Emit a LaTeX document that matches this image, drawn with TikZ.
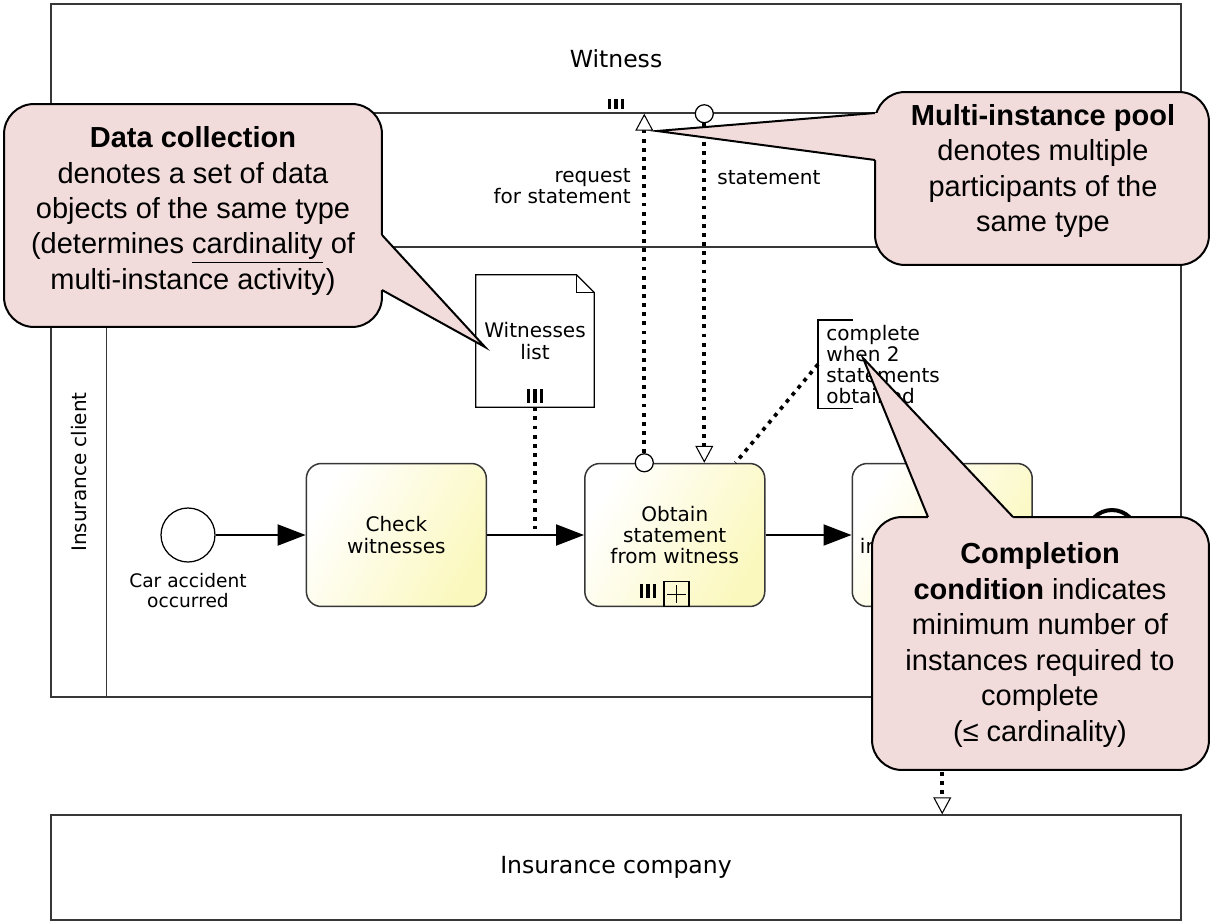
\documentclass[tikz,border=0pt]{standalone}
\usepackage{fontspec}
\setmainfont{Liberation Sans}
\newfontfamily\bpmnfont{DejaVu Sans}
\usetikzlibrary{
  arrows.meta,
  positioning,  % right=of ...
  calc,         % $...$
}
\definecolor{taskfill}{RGB}{251,248,190}
\definecolor{calloutfill}{RGB}{242,220,219}
\definecolor{poolline}{RGB}{55,55,55}
\def\mytaskw{3.6cm}
\def\mytaskh{2.86cm}
\def\mypoolw{22.6cm}
\newcommand{\bpmnsize}{\fontsize{11.4pt}{12pt}\selectfont}
\newcommand{\evsize}{\fontsize{10.6pt}{11.4pt}\selectfont}
\newcommand{\poolsize}{\fontsize{13.4pt}{16pt}\selectfont}
\newcommand{\notesize}{\fontsize{16.5pt}{20.2pt}\selectfont}
% multi-instance marker: three bars (centre, bar height)
\newcommand{\mibars}[2]{
  \foreach \bx in {-6.5,0,6.5}
    \draw[line width=0.075cm] ($(#1)+(\bx,-#2/2)$) -- ($(#1)+(\bx,#2/2)$);
}
\tikzset{
  line cap=butt,
  thin line/.style={
    draw=black,
    line width=0.025cm
  },
  pool/.style={
    draw=poolline,
    line width=0.03cm,
    minimum width=\mypoolw,
    inner sep=0pt,
    font=\bpmnfont\poolsize
  },
  pool label/.style={
    inner sep=0pt,
    font=\bpmnfont\bpmnsize
  },
  task/.style={
    draw=poolline,
    line width=0.03cm,
    rounded corners=0.3cm,
    minimum width=\mytaskw,
    minimum height=\mytaskh,
    left color=white,
    right color=taskfill,
    shading angle=60,
    align=center,
    font=\bpmnfont\bpmnsize
  },
  start event/.style={
    circle,
    thin line,
    fill=white,
    minimum size=1.08cm,
    inner sep=0pt
  },
  end event/.style={
    circle,
    draw=black,
    line width=0.08cm,
    fill=white,
    minimum size=1.0cm,
    inner sep=0pt
  },
  event label/.style={
    align=center,
    inner sep=0pt,
    font=\bpmnfont\evsize
  },
  flow label/.style={
    inner sep=0pt,
    font=\bpmnfont\bpmnsize
  },
  data object/.style={
    minimum width=2.36cm,
    minimum height=2.64cm,
    align=center,
    font=\bpmnfont\bpmnsize
  },
  plus box/.style={
    thin line,
    minimum size=0.5cm,
    inner sep=0pt
  },
  msg dot/.style={
    circle,
    thin line,
    fill=white,
    minimum size=0.36cm,
    inner sep=0pt
  },
  seq/.style={
    -{Triangle[length=0.56cm,width=0.42cm]},
    line width=0.04cm
  },
  msg/.style={
    -{Triangle[length=0.34cm,width=0.36cm,line width=0.6pt,fill=white]},
    line width=2.1pt,
    dash pattern=on 2.2pt off 3pt
  },
  assoc/.style={
    line width=2.1pt,
    dash pattern=on 2.2pt off 3pt
  },
  callout/.style={
    draw=black,
    line width=0.04cm,
    fill=calloutfill,
    rounded corners=0.6cm
  },
  callout edge/.style={
    draw=black,
    line width=0.04cm
  },
  callout text/.style={
    align=center,
    inner sep=0pt,
    font=\notesize
  }
}

\begin{document}
\begin{tikzpicture}[x=0.02cm,y=-0.02cm]
\useasboundingbox (0,0) rectangle (1212,923);
% Pools
\node[pool, minimum height=2.18cm] (witness) at (616,58.5) {Witness};
\node[pool, minimum height=9cm]    (client)  at (616,472)  {};
\node[pool, minimum height=2.1cm]  (company) at (616,867.5) {Insurance company};
\draw[draw=poolline, line width=0.03cm] ([xshift=1.12cm]client.north west) -- ([xshift=1.12cm]client.south west);
\node[pool label, rotate=90] (clientlbl) at (79,472) {Insurance client};
\mibars{616,104}{10}
% Process of the insurance client
\node[start event]                   (start)    at (188,535) {};
\node[event label, below=0.2cm of start] (startlbl) {Car accident\\occurred};
\node[task, right=1.8cm of start]    (check)  {Check\\witnesses};
\node[task, right=1.94cm of check]   (obtain) {Obtain\\statement\\from witness};
\node[task, right=1.72cm of obtain]  (claim)  {\phantom{Submit}\\in\phantom{surance claim.}};
\node[end event, right=1.04cm of claim] (end) {};
\draw[seq] (start) -- (check);
\draw[seq] (check) -- (obtain);
\draw[seq] (obtain) -- (claim);
\draw[seq] (claim) -- (end);
% Obtain marker
\mibars{648,591}{14}
\node[plus box, anchor=south west] (subp) at ($(obtain.south)+(-11.5,0)$) {};
\draw[thin line, shorten >=0.08cm, shorten <=0.08cm] (subp.north) -- (subp.south);
\draw[thin line, shorten >=0.08cm, shorten <=0.08cm] (subp.west) -- (subp.east);
% Data collection
\node[data object] (wlist) at (535,341) {Witnesses\\list};
\draw[thin line] (wlist.south west) -- (wlist.north west) -- ([xshift=-0.36cm]wlist.north east)
  -- ([yshift=-0.36cm]wlist.north east) -- (wlist.south east) -- cycle;
\draw[thin line] ([xshift=-0.36cm]wlist.north east) |- ([yshift=-0.36cm]wlist.north east);
\mibars{535,396}{14}
\coordinate (wljoin) at ($(wlist.south |- check.east)+(0,-6)$);
\draw[assoc] (wlist.south) -- (wljoin);
% Message flows with the witness
\node[msg dot] (rqdot) at ([xshift=-0.61cm]obtain.north) {};
\coordinate (rqend) at (rqdot |- witness.south);
\draw[msg] (rqdot) -- (rqend);
\node[flow label, anchor=east, align=right] (rqlbl) at (631,186) {request\\for statement};
\coordinate (sttop) at ([xshift=0.59cm]obtain.north);
\node[msg dot] (stdot) at (sttop |- witness.south) {};
\draw[msg] (stdot) -- (sttop);
\node[flow label, anchor=west] (stlbl) at (717,178) {statement};
% Completion condition annotation
\node[flow label, anchor=north west, align=left, inner xsep=0.16cm, minimum height=1.76cm] (cond) at (818,320)
  {complete\\when 2\\statements\\obtained};
\draw[thin line] ([xshift=0.7cm]cond.north west) -- (cond.north west) -- (cond.south west) -- ([xshift=0.7cm]cond.south west);
\coordinate (condend) at ([xshift=-0.6cm]obtain.north east);
\draw[assoc] (cond.west) -- (condend);
% Message flow to the insurance company
\coordinate (coin) at (claim.south |- company.north);
\draw[msg] (claim.south) -- (coin);
% Callouts
\node[callout, minimum width=7.56cm, minimum height=4.46cm] (dcbox) at (193,215.5) {};
\fill[calloutfill] (382,235) -- (485,347) -- (382,290) -- (376,290) -- (376,235) -- cycle;
\draw[callout edge] (382,235) -- (485,347) -- (382,290);
\node[callout text] (dctxt) at (193,211) {\textbf{Data collection}\\denotes a set of data\\objects of the same type\\(determines \underline{cardinality} of\\multi-instance activity)};
\node[callout, minimum width=6.68cm, minimum height=3.46cm] (mibox) at (1042,178.5) {};
\fill[calloutfill] (875,113) -- (657,131) -- (875,160) -- (881,160) -- (881,113) -- cycle;
\draw[callout edge] (875,113) -- (657,131) -- (875,160);
\node[callout text] (mitxt) at (1043,171) {\textbf{Multi-instance pool}\\denotes multiple\\participants of the\\same type};
\node[callout, minimum width=6.74cm, minimum height=5.06cm] (ccbox) at (1040.5,643.5) {};
\fill[calloutfill] (928,517) -- (863,358) -- (1013,517) -- (1013,523) -- (928,523) -- cycle;
\draw[callout edge] (928,517) -- (863,358) -- (1013,517);
\node[callout text] (cctxt) at (1040,645) {\textbf{Completion}\\\textbf{condition} indicates\\minimum number of\\instances required to\\complete\\(≤ cardinality)};
\end{tikzpicture}
\end{document}
